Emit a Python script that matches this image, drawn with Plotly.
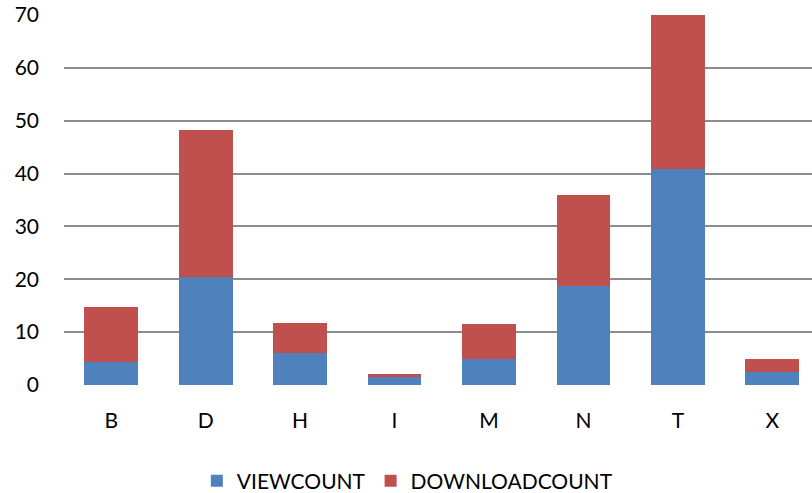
import plotly.graph_objects as go

# Stacked counts per category
categories = ["B", "D", "H", "I", "M", "N", "T", "X"]
view_count = [4.4, 20.45, 6.0, 1.45, 4.98, 18.8, 40.85, 2.52]
download_count = [10.3, 27.85, 5.74, 0.63, 6.57, 17.2, 29.15, 2.35]
y_ticks = [0, 10, 20, 30, 40, 50, 60, 70]

FONT = "Lato"
BLUE = "#4F81BD"
RED = "#C0504D"
GRID = "#8C8C8C"

fig = go.Figure()
fig.add_trace(go.Bar(
    x=categories, y=view_count, name="VIEWCOUNT",
    marker=dict(color=BLUE, line=dict(width=0)),
))
fig.add_trace(go.Bar(
    x=categories, y=download_count, name="DOWNLOADCOUNT",
    marker=dict(color=RED, line=dict(width=0)),
))

fig.update_layout(
    barmode="stack",
    bargap=0.43,
    width=812, height=493,
    margin=dict(l=64, r=0, t=15, b=108, autoexpand=False),
    paper_bgcolor="white",
    plot_bgcolor="white",
    font=dict(family=FONT, size=21, color="#000000"),
    showlegend=True,
    legend=dict(
        orientation="h",
        x=0.459, xanchor="center",
        y=-0.26, yanchor="middle",
        font=dict(family=FONT, size=21, color="#000000"),
        traceorder="normal",
        itemwidth=30,
    ),
    xaxis=dict(
        range=[-0.5, 7.42],
        showgrid=False, showline=False, zeroline=False,
        ticks="outside", ticklen=17, tickcolor="rgba(0,0,0,0)",
        tickfont=dict(family=FONT, size=21),
    ),
    yaxis=dict(
        range=[0, 70],
        tickvals=y_ticks,
        showgrid=True, gridcolor=GRID, gridwidth=2,
        zeroline=False, showline=False,
        ticks="", ticklabelstandoff=24,
        tickfont=dict(family=FONT, size=21),
    ),
)

fig.write_html("out.html")
